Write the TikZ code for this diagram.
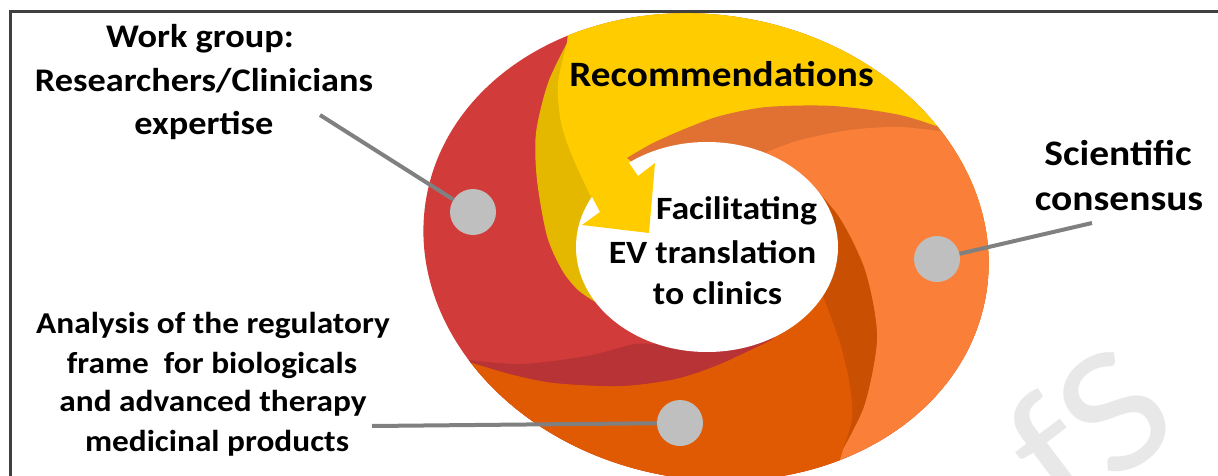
\documentclass[tikz,border=0pt]{standalone}
\usepackage{fontspec}
\setmainfont[FakeStretch=1.1]{Carlito}
\definecolor{cred}{HTML}{D13C3B}
\definecolor{credd}{HTML}{B83336}
\definecolor{cyel}{HTML}{FFCC00}
\definecolor{cyeld}{HTML}{E5B800}
\definecolor{corl}{HTML}{FA7F38}
\definecolor{corld}{HTML}{E07133}
\definecolor{cord}{HTML}{E05A04}
\definecolor{cordd}{HTML}{C94F02}
\definecolor{cdot}{HTML}{BFBFBF}
\definecolor{cline}{HTML}{808080}
\definecolor{cframe}{HTML}{404040}
\definecolor{cwater}{HTML}{E8E8E8}
\tikzset{
  lbl/.style={anchor=base, inner sep=0pt, text=black, font=\bfseries\fontsize{#1}{#1}\selectfont},
  dot/.style={circle, fill=cdot, minimum size=46pt, inner sep=0pt},
  conn/.style={draw=cline, line width=4pt},
}
\begin{document}
\begin{tikzpicture}[x=1pt,y=-1pt]
\path[use as bounding box] (0,0) rectangle (1218,476);
\clip (0,0) rectangle (1218,476);
\fill[white] (0,0) rectangle (1218,476);
% watermark
\node[rotate=37, anchor=base west, text=cwater, font=\fontsize{180}{180}\selectfont, inner sep=0pt] (wm) at (1064,522) {fS};
% frame
\draw[cframe, line width=3pt] (10,500) -- (10,12) -- (1240,12);
% ring
\begin{scope}
\clip[rotate around={-10:(706,247)}] (706,247) ellipse [x radius=284, y radius=232];
\fill[cred] (380,-20) rectangle (1040,500);
% yellow blade
\fill[cyeld] (575,-20) -- plot[smooth] coordinates {(567,43) (548,83) (536,133) (537,180) (547,236) (562,270) (578,290) (597,303)} -- (700,300) -- (1040,300) -- (1040,-20) -- cycle;
\fill[cyel] (575,-20) -- plot[smooth] coordinates {(567,43) (558,83) (560,117) (566,140) (576,165) (590,195)} -- (680,250) -- (1040,250) -- (1040,-20) -- cycle;
% light orange blade
\fill[corld] plot[smooth] coordinates {(627,158) (653,143) (687,128) (720,116) (767,107) (833,106) (900,115) (953,132)} -- (1040,120) -- (1040,500) -- (830,490) -- plot[smooth] coordinates {(843,449) (863,409) (873,369) (877,336) (873,303) (865,270) (852,240) (837,214) (818,192)} -- (720,230) -- cycle;
\fill[corl] plot[smooth] coordinates {(767,152) (800,140) (850,130) (900,127) (953,133)} -- (1040,125) -- (1040,500) -- (830,490) -- plot[smooth] coordinates {(843,449) (863,409) (873,369) (877,336) (873,303) (865,270) (852,240) (837,214) (818,192)} -- (740,220) -- cycle;
% bottom blade
\fill[cordd] plot[smooth] coordinates {(818,192) (837,214) (852,240) (865,270) (873,303) (877,336) (873,369) (863,409) (843,449)} -- (830,490) -- (380,500) -- (380,345) -- (420,347) -- plot[smooth] coordinates {(460,359) (510,374) (555,383) (620,386) (675,379) (720,364) (773,339)} -- (760,260) -- cycle;
\fill[cord] plot[smooth] coordinates {(823,296) (840,343) (850,386) (852,419) (843,449)} -- (830,490) -- (380,500) -- (380,345) -- (420,347) -- plot[smooth] coordinates {(460,359) (510,374) (555,383) (620,386) (675,379) (720,364) (773,339)} -- cycle;
% red shading band
\fill[credd] (420,347) -- plot[smooth] coordinates {(460,359) (520,364) (587,356) (635,344) (662,345)} -- (700,320) -- plot[smooth] coordinates {(773,339) (720,364) (675,379) (620,386) (555,383) (510,374) (460,359)} -- cycle;
\end{scope}
% hole
\fill[white] (707,247) ellipse [x radius=131, y radius=105];
% arrow head of the yellow blade
\fill[cyel] (600,148) -- (590,193) -- (600,212) -- (582,225) -- (649,233) -- (655,163) -- (638,176) -- (627,160) -- cycle;
% texts
\node[lbl=33] (wg1) at (200,48) {Work group:};
\node[lbl=33] (wg2) at (204,92) {Researchers/Clinicians};
\node[lbl=33] (wg3) at (204,135) {expertise};
\node[lbl=35.7] (rec) at (721.5,87) {Recommendations};
\node[lbl=35.9] (sc1) at (1118,165) {Scientific};
\node[lbl=35.9] (sc2) at (1119,210) {consensus};
\node[lbl=32.5] (fc1) at (736.5,219) {Facilitating};
\node[lbl=32.5] (fc2) at (712.5,263) {EV translation};
\node[lbl=32.5] (fc3) at (717.5,304) {to clinics};
\node[lbl=30.3] (an1) at (213,333) {Analysis of the regulatory};
\node[lbl=30.3] (an2) at (212,373) {frame\ \ for biologicals};
\node[lbl=30.3] (an3) at (213,411.5) {and advanced therapy};
\node[lbl=30.3] (an4) at (217,451) {medicinal products};
% connectors and dots
\coordinate (wgend) at (320,115);
\coordinate (scend) at (1092,223);
\coordinate (anend) at (372,426);
\node[dot] (c1) at (473,212) {};
\node[dot] (c2) at (937,259) {};
\node[dot] (c3) at (680,423) {};
\draw[conn] (wgend) -- (c1);
\draw[conn] (scend) -- (c2);
\draw[conn] (anend) -- (c3);
\end{tikzpicture}
\end{document}
